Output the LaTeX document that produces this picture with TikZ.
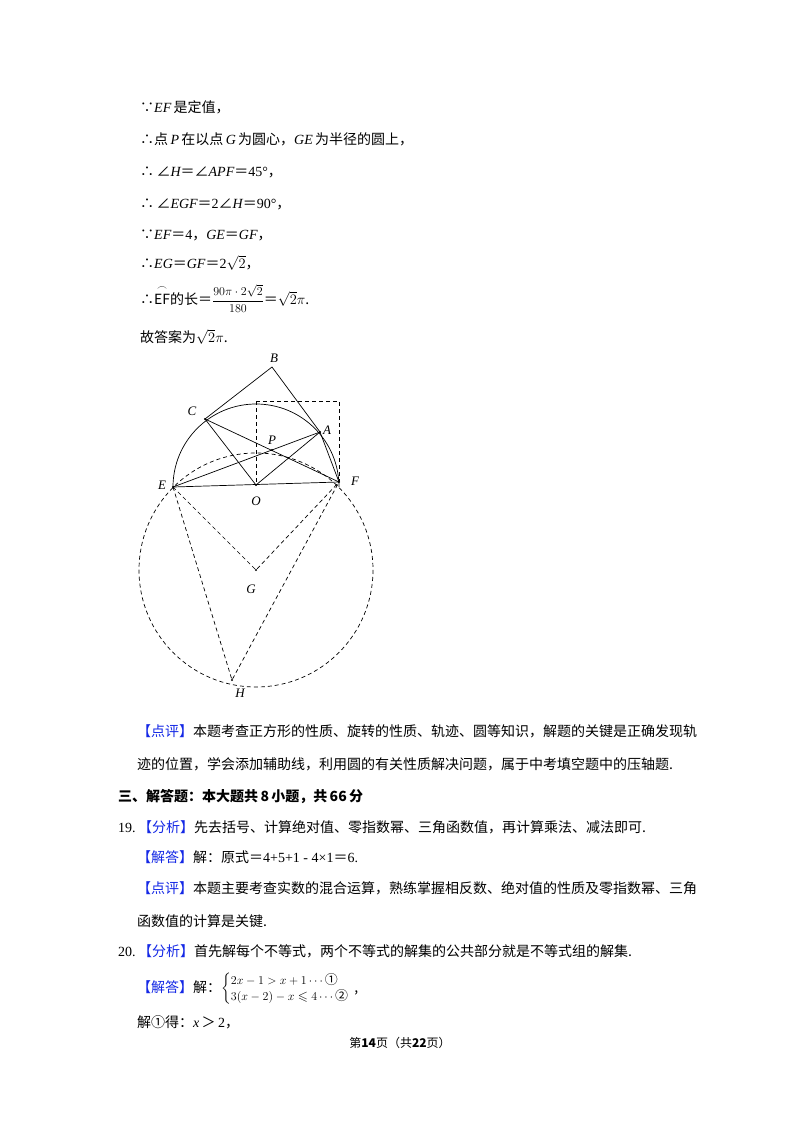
\documentclass[tikz,border=0pt]{standalone}
\usepackage{amsmath,amssymb}
\usepackage{fontspec}
\setmainfont{Noto Sans CJK SC}
\newfontfamily\tnr{Liberation Serif}
\newcommand\vi[1]{{\tnr\itshape #1}}
\newcommand\vr[1]{{\tnr #1}}
\definecolor{kblue}{RGB}{20,40,230}
\newcommand\kb[1]{{\color{kblue}【#1】}}
\begin{document}
\begin{tikzpicture}[x=1pt,y=-1pt,
  txt/.style={anchor=base west,inner sep=0pt,font=\fontsize{14}{17}\selectfont},
  lbl/.style={inner sep=0pt,font=\tnr\itshape\fontsize{13}{15}\selectfont},
  sol/.style={line width=0.7pt},
  dsh/.style={line width=0.7pt,dashed,dash pattern=on 4pt off 3pt}]
\useasboundingbox[fill=white] (0,0) rectangle (800,1132);
% text
\node[txt] (t1) at (140,112) {∵\vi{EF}\,是定值，};
\node[txt] (t2) at (140,144) {∴点\,\vi{P}\,在以点\,\vi{G}\,为圆心，\vi{GE}\,为半径的圆上，};
\node[txt] (t3) at (140,176) {∴\,∠\vi{H}＝∠\vi{APF}＝\vr{45°}，};
\node[txt] (t4) at (140,208) {∴\,∠\vi{EGF}＝\vr{2}∠\vi{H}＝\vr{90°}，};
\node[txt] (t5) at (140,239) {∵\vi{EF}＝\vr{4}，\vi{GE}＝\vi{GF}，};
\node[txt] (t6) at (140,268) {∴\vi{EG}＝\vi{GF}＝\vr{2}$\sqrt{2}$，};
\node[txt] (t7) at (140,304) {∴$\overset{\frown}{\mathrm{EF}}$的长＝{\fontsize{12}{14}\selectfont$\dfrac{90\pi\cdot2\sqrt{2}}{180}$}＝$\sqrt{2}\pi$.};
\node[txt] (t8) at (140,342) {故答案为$\sqrt{2}\pi$.};
\node[txt] (t9) at (137,736) {\kb{点评}本题考查正方形的性质、旋转的性质、轨迹、圆等知识，解题的关键是正确发现轨};
\node[txt] (t10) at (137,769) {迹的位置，学会添加辅助线，利用圆的有关性质解决问题，属于中考填空题中的压轴题.};
\node[txt] (t11) at (118,801) {\textbf{三、解答题：本大题共\,8\,小题，共\,66\,分}};
\node[txt] (t12) at (118,832) {\vr{19.}\,\kb{分析}先去括号、计算绝对值、零指数幂、三角函数值，再计算乘法、减法即可.};
\node[txt] (t13) at (137,862) {\kb{解答}解：原式＝\vr{4+5+1 - 4×1}＝\vr{6.}};
\node[txt] (t14) at (137,893) {\kb{点评}本题主要考查实数的混合运算，熟练掌握相反数、绝对值的性质及零指数幂、三角};
\node[txt] (t15) at (137,926) {函数值的计算是关键.};
\node[txt] (t16) at (118,956) {\vr{20.}\,\kb{分析}首先解每个不等式，两个不等式的解集的公共部分就是不等式组的解集.};
\node[txt] (t17) at (137,992) {\kb{解答}解：{\fontsize{13}{15}\selectfont\renewcommand\arraystretch{0.95}$\left\{\begin{array}{@{}l}2x-1>x+1\cdots\text{①}\\ 3(x-2)-x\leqslant4\cdots\text{②}\end{array}\right.$},};
\node[txt] (t18) at (137,1027) {解①得：\vi{x}\,＞\,\vr{2}，};
\node[txt,anchor=base,font=\fontsize{12}{14}\selectfont] (t19) at (400,1047) {第\textbf{14}页（共\textbf{22}页）};
% figure
\coordinate (O) at (256,485);
\coordinate (E) at (173,487);
\coordinate (F) at (339,482);
\coordinate (C) at (205,419);
\coordinate (A) at (320,432);
\coordinate (B) at (272,367);
\coordinate (P) at (272,450);
\coordinate (G) at (256,570);
\coordinate (H) at (232,680);
\coordinate (T) at (256,401);
\coordinate (S) at (339,401);
\draw[sol] (E) arc[start angle=180,end angle=360,radius=83];
\draw[dsh] (G) circle[radius=117];
\draw[sol] (E) -- (F);
\draw[sol] (C) -- (B) -- (A) -- (F);
\draw[sol] (C) -- (O) -- (A);
\draw[sol] (C) -- (F);
\draw[sol] (E) -- (A);
\draw[dsh] (T) -- (S) -- (F);
\draw[dsh] (T) -- (O);
\draw[dsh] (E) -- (G) -- (F);
\draw[dsh] (E) -- (H) -- (F);
\foreach \p in {E,F,O,C,A,P,G,H} \fill (\p) circle[radius=1.2];
\node[lbl] (lB) at (274,358) {B};
\node[lbl] (lC) at (192,411) {C};
\node[lbl] (lA) at (327,430) {A};
\node[lbl] (lP) at (272,440) {P};
\node[lbl] (lE) at (162,485) {E};
\node[lbl] (lF) at (355,481) {F};
\node[lbl] (lO) at (256,501) {O};
\node[lbl] (lG) at (251,589) {G};
\node[lbl] (lH) at (240,693) {H};
\end{tikzpicture}
\end{document}
